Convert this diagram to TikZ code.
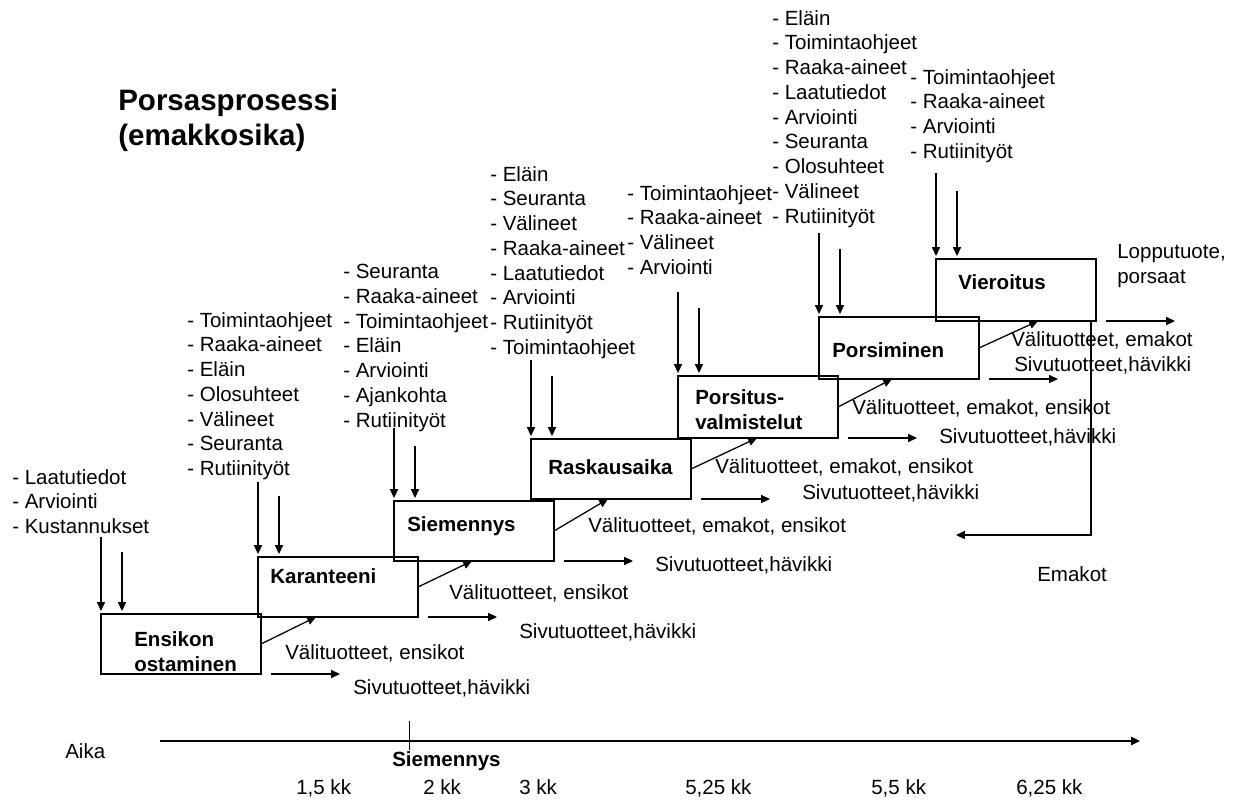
\documentclass[tikz,border=0pt]{standalone}
\usepackage{fontspec}
\setmainfont{Liberation Sans}
\usetikzlibrary{arrows.meta,calc}

\begin{document}
\begin{tikzpicture}[x=0.25mm, y=-0.25mm,
  every node/.style={inner sep=0pt},
  txt/.style={font=\fontsize{14.6}{17.6}\selectfont, align=left, anchor=north west},
  vaiheteksti/.style={font=\fontsize{14.6}{17.6}\selectfont\bfseries, align=left, anchor=west},
  vaihe/.style={draw, line width=1.4pt, outer sep=0pt, minimum width=40mm, minimum height=15mm, anchor=north west},
  nuoli/.style={-{Triangle[length=2.2mm, width=2mm]}, line width=0.9pt}]
  \useasboundingbox (0,0) rectangle (1236,800);

  \node[font=\fontsize{21}{24.8}\selectfont\bfseries, align=left, anchor=north west] (otsikko) at (118,89) {Porsasprosessi\\(emakkosika)};

  \node[vaihe] (ensikon) at (101,614) {};
  \node[vaihe] (karanteeni) at (258,557) {};
  \node[vaihe] (siemennys) at (394,501) {};
  \node[vaihe] (raskaus) at (531,439) {};
  \node[vaihe, minimum height=15.5mm] (porsitus) at (678,376) {};
  \node[vaihe, minimum height=15.5mm] (porsiminen) at (819,317) {};
  \node[vaihe, minimum height=15.5mm] (vieroitus) at (936,259) {};

  \node[vaiheteksti] (ensikonT) at ($(ensikon.west)+(33,8)$) {Ensikon\\ostaminen};
  \node[vaiheteksti] (karanteeniT) at ($(karanteeni.west)+(12,-11)$) {Karanteeni};
  \node[vaiheteksti] (siemennysT) at ($(siemennys.west)+(13,-5)$) {Siemennys};
  \node[vaiheteksti] (raskausT) at ($(raskaus.west)+(17,-2)$) {Raskausaika};
  \node[vaiheteksti] (porsitusT) at ($(porsitus.west)+(17,3)$) {Porsitus-\\valmistelut};
  \node[vaiheteksti] (porsiminenT) at ($(porsiminen.west)+(13,2)$) {Porsiminen};
  \node[vaiheteksti] (vieroitusT) at ($(vieroitus.west)+(22,-8)$) {Vieroitus};

  \node[txt] (ensikonL) at (12,469) {- Laatutiedot\\- Arviointi\\- Kustannukset};
  \node[txt] (karanteeniL) at (187,312) {- Toimintaohjeet\\- Raaka-aineet\\- Eläin\\- Olosuhteet\\- Välineet\\- Seuranta\\- Rutiinityöt};
  \node[txt] (siemennysL) at (343,264) {- Seuranta\\- Raaka-aineet\\- Toimintaohjeet\\- Eläin\\- Arviointi\\- Ajankohta\\- Rutiinityöt};
  \node[txt] (raskausL) at (490,166) {- Eläin\\- Seuranta\\- Välineet\\- Raaka-aineet\\- Laatutiedot\\- Arviointi\\- Rutiinityöt\\- Toimintaohjeet};
  \node[txt] (porsitusL) at (627,185) {- Toimintaohjeet\\- Raaka-aineet\\- Välineet\\- Arviointi};
  \node[txt] (porsiminenL) at (772,10) {- Eläin\\- Toimintaohjeet\\- Raaka-aineet\\- Laatutiedot\\- Arviointi\\- Seuranta\\- Olosuhteet\\- Välineet\\- Rutiinityöt};
  \node[txt] (vieroitusL) at (910,69) {- Toimintaohjeet\\- Raaka-aineet\\- Arviointi\\- Rutiinityöt};

  \foreach \b/\la/\lb in {ensikon/77/62, karanteeni/75/61, siemennys/73/55, raskaus/79/63, porsitus/84/68, porsiminen/84/68, vieroitus/86/68}
  {
    \draw[nuoli] ($(\b.north west)+(0,-\la)$) -- ($(\b.north west)+(0,-3)$);
    \draw[nuoli] ($(\b.north west)+(21,-\lb)$) -- ($(\b.north west)+(21,-3)$);
    \draw[nuoli] ($(\b.south east)+(10,0)$) -- ++(69,0);
  }

  \foreach \a/\b/\dx in {ensikon/karanteeni/58, karanteeni/siemennys/78, siemennys/raskaus/77, raskaus/porsitus/79, porsitus/porsiminen/73, porsiminen/vieroitus/102}
    \draw[nuoli] (\a.east) -- ($(\b.south west)+(\dx,0)$);

  \node[txt, anchor=west] (ensikonV) at (285,653) {Välituotteet, ensikot};
  \node[txt, anchor=west] (ensikonS) at (353,688) {Sivutuotteet,hävikki};
  \node[txt, anchor=west] (karanteeniV) at (449,593) {Välituotteet, ensikot};
  \node[txt, anchor=west] (karanteeniS) at (519,632) {Sivutuotteet,hävikki};
  \node[txt, anchor=west] (siemennysV) at (588,526) {Välituotteet, emakot, ensikot};
  \node[txt, anchor=west] (siemennysS) at (655,565) {Sivutuotteet,hävikki};
  \node[txt, anchor=west] (raskausV) at (715,467) {Välituotteet, emakot, ensikot};
  \node[txt, anchor=west] (raskausS) at (802,493) {Sivutuotteet,hävikki};
  \node[txt, anchor=west] (porsitusV) at (852,408) {Välituotteet, emakot, ensikot};
  \node[txt, anchor=west] (porsitusS) at (939,437) {Sivutuotteet,hävikki};
  \node[txt, anchor=west] (porsiminenV) at (1011,340) {Välituotteet, emakot};
  \node[txt, anchor=west] (porsiminenS) at (1014,365) {Sivutuotteet,hävikki};
  \node[txt, anchor=west] (lopputuote) at (1117,266) {Lopputuote,\\porsaat};

  \coordinate (paluu) at (956,535);
  \draw[nuoli] ($(vieroitus.south east)+(-5,0)$) |- (paluu);
  \node[txt, anchor=west] (emakot) at (1037,574) {Emakot};

  \node[txt, anchor=west] (aika) at (65,751) {Aika};
  \coordinate (akseliA) at (160,741);
  \coordinate (akseliB) at (1140,741);
  \draw[nuoli, line width=1.3pt] (akseliA) -- (akseliB);
  \draw[line width=0.5pt] ($(akseliA)+(249,-20)$) -- ++(0,29);
  \node[vaiheteksti] (siemennysA) at (392,761) {Siemennys};
  \foreach \x/\t in {296/{1,5 kk}, 423/{2 kk}, 519/{3 kk}, 685/{5,25 kk}, 871/{5,5 kk}, 1016/{6,25 kk}}
    \node[txt, anchor=base west] (kk\x) at (\x,794) {\t};
\end{tikzpicture}
\end{document}
